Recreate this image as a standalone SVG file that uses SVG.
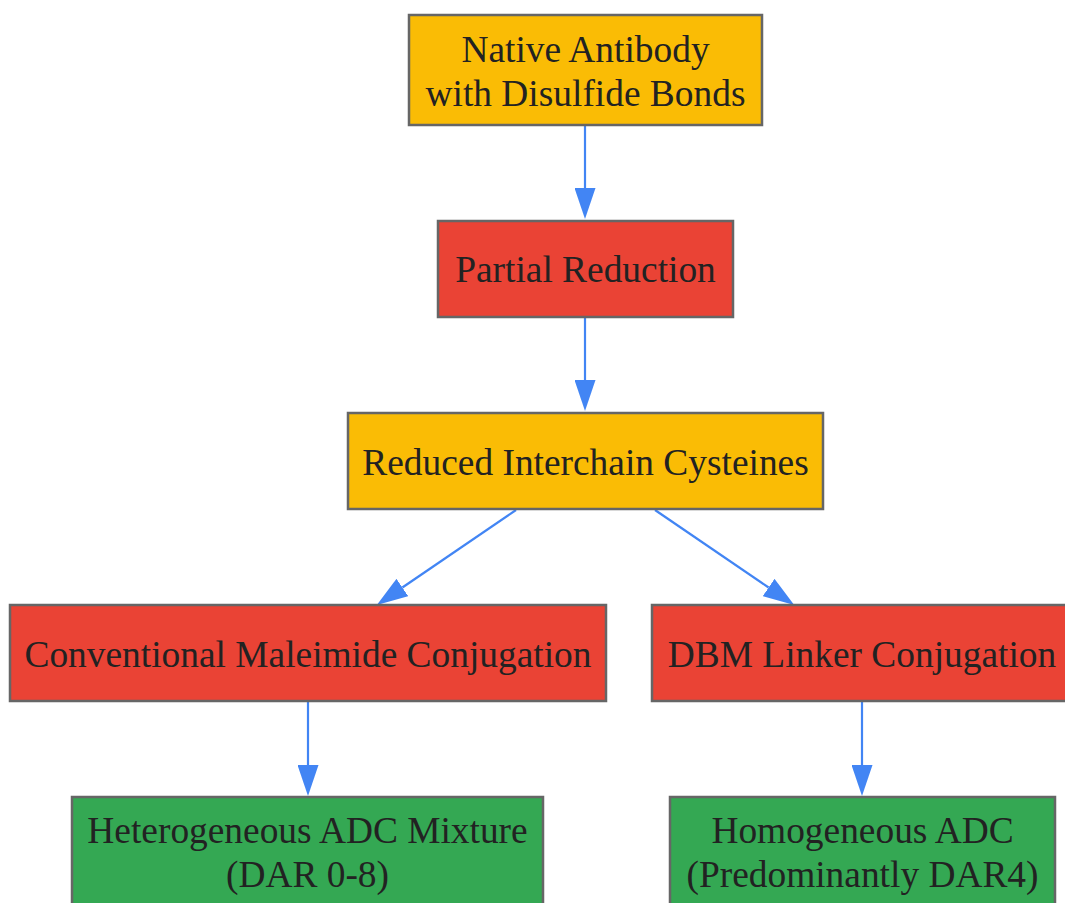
<svg xmlns="http://www.w3.org/2000/svg" width="1065" height="903" viewBox="0 0 1065 903">
<style>
.box{stroke:#666666;stroke-width:2.5}
.y{fill:#FABC05}
.r{fill:#EA4335}
.g{fill:#34A853}
.t{font-family:"Liberation Serif","Times New Roman",serif;font-size:37.4px;fill:#222222;text-anchor:middle}
.e{stroke:#4285F4;stroke-width:2.2;fill:none}
</style>
<defs>
<marker id="ah" viewBox="0 0 31 21" refX="0" refY="10.5" markerWidth="31" markerHeight="21" markerUnits="userSpaceOnUse" orient="auto">
<path d="M0,0 L31,10.5 L0,21 Z" fill="#4285F4"/>
</marker>
</defs>
<rect width="1065" height="903" fill="#ffffff"/>
<g id="connectors">
<path class="e" d="M585,125 L585,188" marker-end="url(#ah)"/>
<path class="e" d="M585,317 L585,380" marker-end="url(#ah)"/>
<path class="e" d="M516,510 L402.4,587.5" marker-end="url(#ah)"/>
<path class="e" d="M655,510 L768.6,587.5" marker-end="url(#ah)"/>
<path class="e" d="M308,701 L308,765" marker-end="url(#ah)"/>
<path class="e" d="M862,701 L862,765" marker-end="url(#ah)"/>
</g>
<g id="native">
<rect class="box y" x="409" y="15" width="353" height="110"/>
<text class="t" x="585.5" y="62">Native Antibody</text>
<text class="t" x="585.5" y="106">with Disulfide Bonds</text>
</g>
<g id="partial">
<rect class="box r" x="438" y="221" width="295" height="96"/>
<text class="t" x="585.5" y="282">Partial Reduction</text>
</g>
<g id="reduced">
<rect class="box y" x="348" y="413" width="475" height="96"/>
<text class="t" x="585.5" y="475">Reduced Interchain Cysteines</text>
</g>
<g id="conventional">
<rect class="box r" x="10" y="605" width="596" height="96"/>
<text class="t" x="308" y="667">Conventional Maleimide Conjugation</text>
</g>
<g id="dbm">
<rect class="box r" x="652" y="605" width="420" height="96"/>
<text class="t" x="862" y="667">DBM Linker Conjugation</text>
</g>
<g id="heterogeneous">
<rect class="box g" x="72" y="797" width="471" height="120"/>
<text class="t" x="307.5" y="843">Heterogeneous ADC Mixture</text>
<text class="t" x="307.5" y="887">(DAR 0-8)</text>
</g>
<g id="homogeneous">
<rect class="box g" x="670" y="797" width="385" height="120"/>
<text class="t" x="862.5" y="843">Homogeneous ADC</text>
<text class="t" x="862.5" y="887">(Predominantly DAR4)</text>
</g>
</svg>
